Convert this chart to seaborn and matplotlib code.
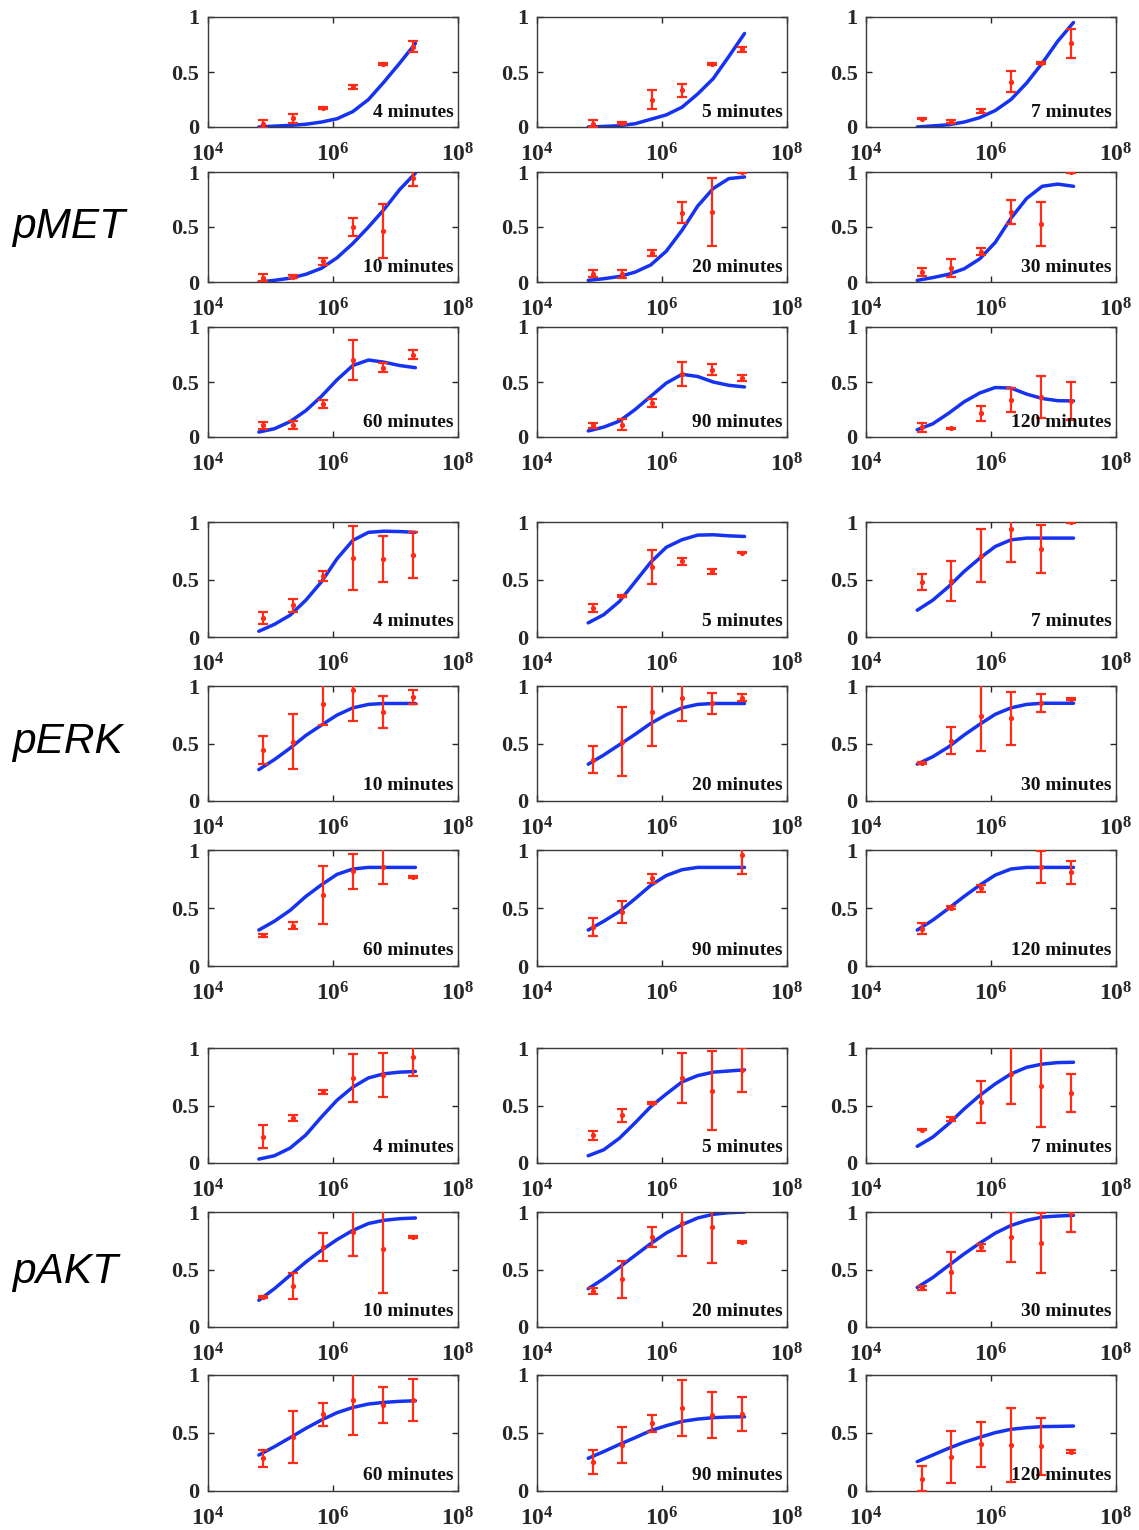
import numpy as np
import matplotlib
matplotlib.use('Agg')
import matplotlib.pyplot as plt
from matplotlib.ticker import NullLocator
import seaborn as sns
import pandas as pd

sns.set_theme(style='ticks')
plt.rcParams['font.family'] = ['Liberation Serif', 'DejaVu Serif']
plt.rcParams['font.weight'] = 'bold'
plt.rcParams['mathtext.fontset'] = 'custom'
plt.rcParams['mathtext.rm'] = 'Liberation Serif:bold'
plt.rcParams['mathtext.bf'] = 'Liberation Serif:bold'
plt.rcParams['mathtext.it'] = 'Liberation Serif:bold:italic'

# ---------------- data ----------------
proteins = ['pMET', 'pERK', 'pAKT']
times = ['4', '5', '7', '10', '20', '30', '60', '90', '120']
dose = [7.8e4, 2.3e5, 7.0e5, 2.1e6, 6.3e6, 1.9e7]
fit_dose = [6.6e4, 1.17e5, 2.09e5, 3.72e5, 6.6e5, 1.17e6, 2.09e6, 3.72e6, 6.6e6, 1.17e7, 2.09e7]
xtick_labels = [r'$\mathbf{10^{4}}$', r'$\mathbf{10^{6}}$', r'$\mathbf{10^{8}}$']
ytick_labels = ['0', '0.5', '1']

nan = float('nan')

MET_mean = [
    [0.03, 0.08, 0.17, 0.365, 0.575, 0.73],
    [0.03, 0.036, 0.25, 0.333, 0.57, 0.706],
    [0.076, 0.05, 0.146, 0.41, 0.585, 0.76],
    [0.04, 0.05, 0.187, 0.5, 0.46, 0.95],
    [0.077, 0.07, 0.264, 0.63, 0.64, 1.0],
    [0.088, 0.125, 0.275, 0.64, 0.53, 1.0],
    [0.106, 0.11, 0.3, 0.7, 0.63, 0.75],
    [0.106, 0.11, 0.31, 0.575, 0.61, 0.536],
    [0.09, 0.08, 0.215, 0.335, 0.364, 0.328],
]
MET_err = [
    [0.035, 0.04, 0.01, 0.015, 0.01, 0.05],
    [0.03, 0.01, 0.09, 0.058, 0.01, 0.025],
    [0.005, 0.01, 0.02, 0.095, 0.01, 0.13],
    [0.03, 0.01, 0.03, 0.078, 0.245, 0.077],
    [0.035, 0.035, 0.025, 0.095, 0.31, 0.01],
    [0.035, 0.08, 0.03, 0.11, 0.2, 0.01],
    [0.03, 0.04, 0.04, 0.18, 0.04, 0.04],
    [0.025, 0.05, 0.035, 0.11, 0.05, 0.03],
    [0.04, 0.005, 0.07, 0.11, 0.19, 0.17],
]
MET_fit = [
    [0.0, 0.008, 0.015, 0.025, 0.045, 0.075, 0.14, 0.25, 0.41, 0.58, 0.76],
    [0.0, 0.005, 0.012, 0.03, 0.07, 0.11, 0.18, 0.3, 0.44, 0.64, 0.85],
    [0.0, 0.01, 0.02, 0.045, 0.085, 0.15, 0.25, 0.4, 0.58, 0.78, 0.95],
    [0.0, 0.015, 0.035, 0.07, 0.125, 0.22, 0.35, 0.5, 0.66, 0.84, 0.99],
    [0.015, 0.03, 0.05, 0.09, 0.155, 0.28, 0.47, 0.69, 0.85, 0.94, 0.955],
    [0.015, 0.04, 0.07, 0.12, 0.21, 0.36, 0.58, 0.76, 0.87, 0.89, 0.87],
    [0.045, 0.075, 0.14, 0.24, 0.37, 0.52, 0.65, 0.70, 0.68, 0.65, 0.63],
    [0.055, 0.09, 0.145, 0.25, 0.37, 0.49, 0.57, 0.55, 0.5, 0.47, 0.455],
    [0.066, 0.12, 0.215, 0.32, 0.4, 0.45, 0.445, 0.39, 0.35, 0.33, 0.328],
]

ERK_mean = [
    [0.166, 0.274, 0.53, 0.686, 0.68, 0.71],
    [0.25, 0.357, 0.61, 0.657, 0.57, 0.734],
    [0.48, 0.487, 0.706, 0.94, 0.767, 1.0],
    [0.445, 0.517, 0.84, 0.963, 0.776, 0.905],
    [0.36, 0.517, 0.776, 0.9, 0.848, 0.897],
    [0.33, 0.525, 0.735, 0.72, 0.85, 0.887],
    [0.265, 0.346, 0.61, 0.818, 0.856, 0.77],
    [0.337, 0.467, 0.755, nan, nan, 0.96],
    [0.323, 0.504, 0.67, nan, 0.856, 0.807],
]
ERK_err = [
    [0.053, 0.057, 0.047, 0.28, 0.2, 0.2],
    [0.036, 0.01, 0.15, 0.03, 0.02, 0.006],
    [0.068, 0.178, 0.23, 0.29, 0.21, 0.01],
    [0.12, 0.24, 0.18, 0.27, 0.14, 0.063],
    [0.12, 0.3, 0.3, 0.2, 0.09, 0.03],
    [0.01, 0.118, 0.3, 0.23, 0.077, 0.01],
    [0.015, 0.03, 0.25, 0.15, 0.15, 0.01],
    [0.075, 0.094, 0.04, nan, nan, 0.17],
    [0.05, 0.01, 0.03, nan, 0.137, 0.1],
]
ERK_fit = [
    [0.05, 0.11, 0.19, 0.32, 0.48, 0.68, 0.84, 0.91, 0.92, 0.917, 0.91],
    [0.123, 0.194, 0.31, 0.48, 0.65, 0.78, 0.846, 0.886, 0.889, 0.88, 0.874],
    [0.233, 0.32, 0.437, 0.57, 0.685, 0.787, 0.845, 0.86, 0.86, 0.86, 0.86],
    [0.273, 0.36, 0.46, 0.57, 0.66, 0.747, 0.81, 0.84, 0.848, 0.848, 0.848],
    [0.32, 0.4, 0.49, 0.58, 0.675, 0.75, 0.81, 0.84, 0.848, 0.848, 0.848],
    [0.32, 0.385, 0.47, 0.574, 0.667, 0.754, 0.81, 0.84, 0.85, 0.85, 0.85],
    [0.31, 0.386, 0.48, 0.6, 0.7, 0.79, 0.836, 0.85, 0.85, 0.85, 0.85],
    [0.31, 0.386, 0.47, 0.58, 0.695, 0.78, 0.83, 0.85, 0.85, 0.85, 0.85],
    [0.31, 0.395, 0.496, 0.6, 0.697, 0.784, 0.836, 0.85, 0.85, 0.85, 0.85],
]

AKT_mean = [
    [0.23, 0.394, 0.618, 0.74, 0.767, 0.925],
    [0.24, 0.414, 0.523, 0.74, 0.63, 0.81],
    [0.289, 0.384, 0.53, 0.775, 0.673, 0.607],
    [0.26, 0.357, 0.696, 0.83, 0.68, 0.783],
    [0.313, 0.414, 0.783, 0.904, 0.87, 0.74],
    [0.338, 0.475, 0.694, 0.781, 0.729, 0.994],
    [0.282, 0.468, 0.66, 0.784, 0.74, 0.784],
    [0.253, 0.397, 0.583, 0.713, 0.655, 0.664],
    [0.107, 0.29, 0.404, 0.396, 0.386, 0.34],
]
AKT_err = [
    [0.1, 0.025, 0.015, 0.21, 0.19, 0.165],
    [0.04, 0.056, 0.01, 0.22, 0.34, 0.19],
    [0.005, 0.02, 0.185, 0.26, 0.36, 0.166],
    [0.01, 0.11, 0.123, 0.215, 0.38, 0.01],
    [0.025, 0.158, 0.09, 0.29, 0.31, 0.01],
    [0.015, 0.175, 0.03, 0.215, 0.26, 0.17],
    [0.072, 0.225, 0.1, 0.3, 0.158, 0.18],
    [0.103, 0.158, 0.072, 0.24, 0.195, 0.148],
    [0.11, 0.224, 0.195, 0.32, 0.245, 0.015],
]
AKT_fit = [
    [0.034, 0.063, 0.13, 0.244, 0.4, 0.546, 0.66, 0.74, 0.776, 0.79, 0.796],
    [0.063, 0.115, 0.216, 0.35, 0.49, 0.6, 0.705, 0.76, 0.79, 0.8, 0.81],
    [0.145, 0.225, 0.34, 0.47, 0.587, 0.688, 0.775, 0.832, 0.86, 0.873, 0.876],
    [0.232, 0.333, 0.45, 0.565, 0.667, 0.76, 0.84, 0.9, 0.928, 0.942, 0.948],
    [0.333, 0.42, 0.52, 0.623, 0.725, 0.817, 0.89, 0.948, 0.98, 0.994, 1.0],
    [0.344, 0.43, 0.534, 0.636, 0.729, 0.816, 0.883, 0.927, 0.956, 0.965, 0.971],
    [0.31, 0.382, 0.46, 0.54, 0.612, 0.675, 0.72, 0.75, 0.764, 0.773, 0.778],
    [0.282, 0.34, 0.402, 0.46, 0.52, 0.563, 0.6, 0.62, 0.632, 0.638, 0.64],
    [0.253, 0.31, 0.368, 0.42, 0.463, 0.503, 0.532, 0.546, 0.555, 0.557, 0.56],
]

all_mean = [MET_mean, ERK_mean, AKT_mean]
all_err = [MET_err, ERK_err, AKT_err]
all_fit = [MET_fit, ERK_fit, AKT_fit]

# ---------------- layout (pixels) ----------------
W, H = 1139, 1530
col_px = [(207.5, 458), (537, 787), (866, 1116)]
row_px = [
    [(17, 127), (172, 282), (327, 437)],
    [(522, 637), (686, 801), (850, 966)],
    [(1048, 1163), (1212, 1327), (1375, 1491)],
]
label_baseline = [238, 753, 1283]

RED = '#FF2B16'
BLUE = '#1533F0'
INK = '#262626'

fig = plt.figure(figsize=(W / 100, H / 100), dpi=100)

for g, prot in enumerate(proteins):
    for i, t in enumerate(times):
        r, c = divmod(i, 3)
        top, bot = row_px[g][r]
        left, right = col_px[c]
        ax = fig.add_axes([left / W, 1 - bot / H, (right - left) / W, (bot - top) / H])
        fit_df = pd.DataFrame({'dose': fit_dose, 'level': all_fit[g][i]})
        sns.lineplot(data=fit_df, x='dose', y='level', ax=ax, color=BLUE,
                     linewidth=2.5, zorder=2)
        ax.errorbar(dose, all_mean[g][i], yerr=all_err[g][i], fmt='.', color=RED,
                    ms=5.5, capsize=3.5, elinewidth=1.6, capthick=1.6, zorder=3)
        ax.set_xscale('log')
        ax.set_xlim(1e4, 1e8)
        ax.set_ylim(0, 1)
        ax.set_xticks([1e4, 1e6, 1e8])
        ax.set_xticklabels(xtick_labels)
        ax.xaxis.set_minor_locator(NullLocator())
        ax.set_yticks([0, 0.5, 1])
        ax.set_yticklabels(ytick_labels)
        ax.set_xlabel('')
        ax.set_ylabel('')
        ax.tick_params(direction='in', top=True, right=True, length=4, width=1,
                       labelsize=16, colors=INK, labelcolor=INK)
        ax.tick_params(axis='x', pad=12, labelsize=17)
        ax.tick_params(axis='y', pad=6)
        for lab in ax.get_yticklabels():
            lab.set_fontweight('bold')
        for sp in ax.spines.values():
            sp.set_color('#3a3a3a')
            sp.set_linewidth(1.0)
        ax.text(0.982, 0.135, f'{t} minutes', transform=ax.transAxes, ha='right',
                va='center', fontsize=14, fontweight='bold', color='#111111', zorder=5)

    fig.text(12 / W, 1 - label_baseline[g] / H, prot, fontsize=30.5, style='italic',
             fontweight='normal', family=['Liberation Sans', 'DejaVu Sans'],
             ha='left', va='baseline', color='black')

fig.savefig('out.png', dpi=100, facecolor='white')
